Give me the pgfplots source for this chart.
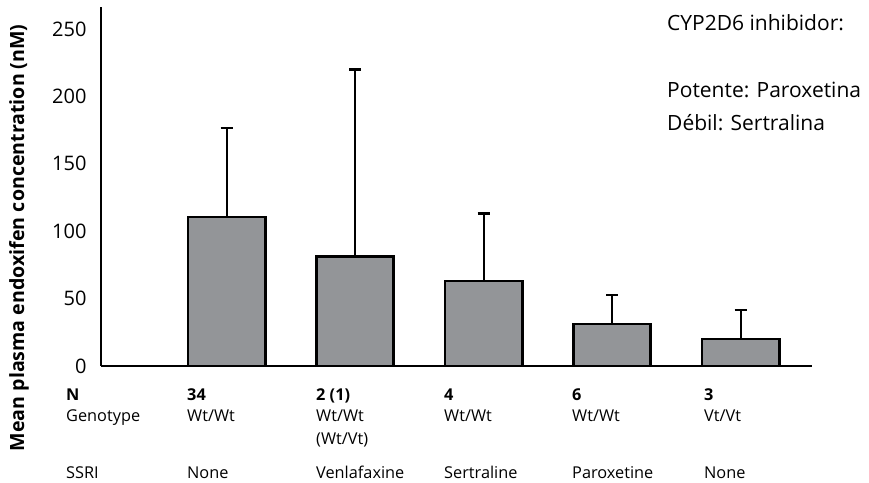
\documentclass[border=0pt]{standalone}
\usepackage{pgfplots}
\pgfplotsset{compat=1.18}
\usepackage{fontspec}
\setmainfont{Open Sans}
\definecolor{bargray}{RGB}{147,149,152}

\begin{document}
\begin{tikzpicture}[x=1bp,y=1bp]
\useasboundingbox (0,0) rectangle (869,483);
\begin{axis}[
  at={(101bp,117bp)}, anchor=south west,
  scale only axis, width=711bp, height=359.3bp,
  xmin=0.022, xmax=5.555, ymin=0, ymax=266.5,
  axis x line=bottom, axis y line=left,
  axis line style={-, line width=2.4bp, black},
  xtick=\empty,
  ytick={0,50,...,250},
  major tick length=0pt,
  yticklabel style={font=\fontsize{20bp}{23bp}\selectfont, xshift=-11bp},
  /pgf/number format/assume math mode=true,
  ylabel={\bfseries Mean plasma endoxifen concentration (nM)},
  ylabel style={font=\fontsize{19.6bp}{22bp}\selectfont, at={(axis description cs:-0.1153,0.357)}, anchor=center},
  clip=false,
]
\addplot[ybar, bar width=0.6, fill=bargray, draw=black, line width=2.6bp,
  error bars/.cd, y dir=plus, y explicit,
  error bar style={line width=2.3bp, black},
  error mark options={rotate=90, mark size=6bp, line width=2.3bp, black}]
coordinates {
  (1,110.5) +- (0,66)
  (2,81)    +- (0,139)
  (3,63)    +- (0,50)
  (4,31)    +- (0,21.5)
  (5,20)    +- (0,21.5)
};
\end{axis}

% inhibitor note
\begin{scope}[every node/.style={anchor=base west, inner sep=0pt, font=\fontsize{21bp}{24bp}\selectfont}]
\node at (667,452) {CYP2D6 inhibidor:};
\node at (667,385) {Potente: Paroxetina};
\node at (667,352) {Débil: Sertralina};
\end{scope}

% group descriptors under the bars
\begin{scope}[every node/.style={anchor=base west, inner sep=0pt, font=\fontsize{16.3bp}{19bp}\selectfont}]
\node at (66,82.3) {\bfseries N};
\node at (66,61.3) {Genotype};
\node at (66,4.7) {SSRI};
\node at (187,82.3) {\bfseries 34};
\node at (187,61.3) {Wt/Wt};
\node at (187,4.7) {None};
\node at (316,82.3) {\bfseries 2 (1)};
\node at (316,61.3) {Wt/Wt};
\node at (316,38.7) {(Wt/Vt)};
\node at (316,4.7) {Venlafaxine};
\node at (444,82.3) {\bfseries 4};
\node at (444,61.3) {Wt/Wt};
\node at (444,4.7) {Sertraline};
\node at (572,82.3) {\bfseries 6};
\node at (572,61.3) {Wt/Wt};
\node at (572,4.7) {Paroxetine};
\node at (704,82.3) {\bfseries 3};
\node at (704,61.3) {Vt/Vt};
\node at (704,4.7) {None};
\end{scope}
\end{tikzpicture}
\end{document}
